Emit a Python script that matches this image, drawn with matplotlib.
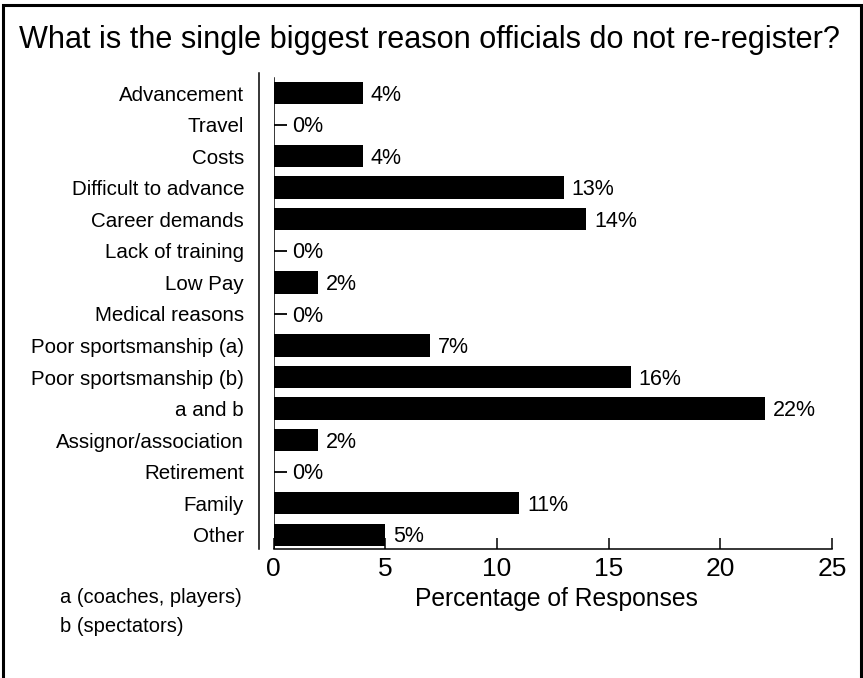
import matplotlib
matplotlib.use('Agg')
import matplotlib.pyplot as plt
from matplotlib.patches import Rectangle

plt.rcParams['font.family'] = ['Liberation Sans', 'DejaVu Sans']

reasons = ['Advancement', 'Travel', 'Costs', 'Difficult to advance', 'Career demands',
           'Lack of training', 'Low Pay', 'Medical reasons', 'Poor sportsmanship (a)',
           'Poor sportsmanship (b)', 'a and b', 'Assignor/association', 'Retirement',
           'Family', 'Other']
percent = [4, 0, 4, 13, 14, 0, 2, 0, 7, 16, 22, 2, 0, 11, 5]
x_ticks = [0, 5, 10, 15, 20, 25]
footnotes = ['a (coaches, players)', 'b (spectators)']

W, H = 863, 678
fig = plt.figure(figsize=(W / 100, H / 100), dpi=100)
ax = fig.add_axes([273.5 / W, (H - 549) / H, (832 - 273.5) / W, (549 - 73) / H])

pos = list(range(len(reasons)))
ax.barh(pos, percent, height=0.71, color='black')

# zero answers get a short stub instead of a bar
for y, v in zip(pos, percent):
    if v == 0:
        ax.hlines(y, 0, 0.6, color='black', lw=1.3)
        ax.annotate('0%', (0, y), xytext=(13.5, -1.5), textcoords='offset points',
                    va='center', fontsize=15.5)
    else:
        ax.annotate(f'{v}%', (v, y), xytext=(5.5, -1.5), textcoords='offset points',
                    va='center', fontsize=15.5)

ax.set_xlim(0, 25)
ax.set_ylim(14.45, -0.635)
ax.set_xticks(x_ticks)
ax.set_yticks(pos)
ax.set_yticklabels(reasons)
ax.tick_params(axis='x', direction='in', length=8, width=1.1, labelsize=19, pad=6)
ax.tick_params(axis='y', length=0, pad=10.8, labelsize=14.8)
ax.set_xlabel('Percentage of Responses', fontsize=17.7, labelpad=4)
ax.xaxis.label.set_x(0.506)

for s in ['top', 'right']:
    ax.spines[s].set_visible(False)
ax.spines['left'].set_position(('outward', 10.4))
ax.spines['left'].set_linewidth(1.1)
ax.spines['bottom'].set_linewidth(1.1)
ax.axvline(0, ymin=0, ymax=0.99, color='black', lw=1.1)

fig.text(19 / W, (H - 48) / H, 'What is the single biggest reason officials do not re-register?',
         fontsize=22.1, va='baseline', ha='left')
fig.text(60 / W, (H - 603) / H, footnotes[0], fontsize=14.5, va='baseline')
fig.text(60 / W, (H - 632) / H, footnotes[1], fontsize=14.5, va='baseline')

fig.patches.append(Rectangle((2.5 / W, -0.05), (861 - 2.5) / W, 1.05 - 5.5 / H,
                             transform=fig.transFigure, fill=False, lw=2.2,
                             edgecolor='black'))

fig.savefig('out.png', dpi=100)
